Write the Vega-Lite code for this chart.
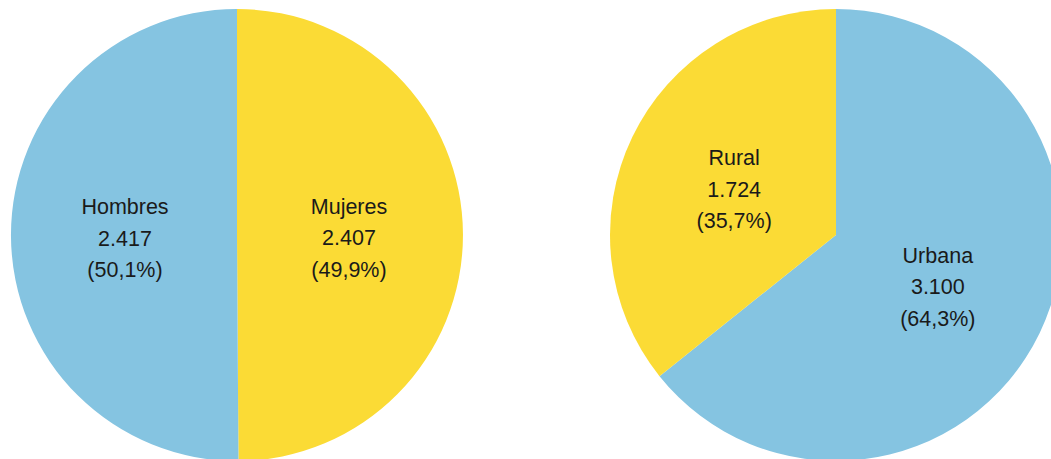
{
  "$schema": "https://vega.github.io/schema/vega-lite/v6.json",
  "padding": 0,
  "spacing": 125,
  "config": {"view": {"stroke": null}, "concat": {"spacing": 125}},
  "datasets": {
    "sexo": [
      {"categoria": "Mujeres", "valor": 2407, "etiqueta": "Mujeres\n2.407\n(49,9%)", "orden": 1, "grupo": "amarillo"},
      {"categoria": "Hombres", "valor": 2417, "etiqueta": "Hombres\n2.417\n(50,1%)", "orden": 2, "grupo": "azul"}
    ],
    "area": [
      {"categoria": "Urbana", "valor": 3100, "etiqueta": "Urbana\n3.100\n(64,3%)", "orden": 1, "grupo": "azul"},
      {"categoria": "Rural", "valor": 1724, "etiqueta": "Rural\n1.724\n(35,7%)", "orden": 2, "grupo": "amarillo"}
    ]
  },
  "hconcat": [
    {
      "width": 474,
      "height": 470,
      "data": {"name": "sexo"},
      "encoding": {
        "theta": {"field": "valor", "type": "quantitative", "stack": true},
        "order": {"field": "orden", "type": "quantitative"}
      },
      "layer": [
        {
          "mark": {"type": "arc", "radius": 226},
          "encoding": {
            "color": {"field": "grupo", "type": "nominal", "scale": {"domain": ["azul", "amarillo"], "range": ["#85C4E1", "#FBDB35"]}, "legend": null}
          }
        },
        {
          "mark": {"type": "text", "radius": 112, "dy": -27, "font": "Liberation Sans", "fontSize": 21.5, "lineHeight": 31.5, "color": "#1a1a1a", "lineBreak": "\n", "baseline": "middle"},
          "encoding": {"text": {"field": "etiqueta", "type": "nominal"}}
        }
      ]
    },
    {
      "width": 474,
      "height": 470,
      "data": {"name": "area"},
      "encoding": {
        "theta": {"field": "valor", "type": "quantitative", "stack": true},
        "order": {"field": "orden", "type": "quantitative"}
      },
      "layer": [
        {
          "mark": {"type": "arc", "radius": 226},
          "encoding": {
            "color": {"field": "grupo", "type": "nominal", "scale": {"domain": ["azul", "amarillo"], "range": ["#85C4E1", "#FBDB35"]}, "legend": null}
          }
        },
        {
          "mark": {"type": "text", "radius": 113, "dy": -27, "font": "Liberation Sans", "fontSize": 21.5, "lineHeight": 31.5, "color": "#1a1a1a", "lineBreak": "\n", "baseline": "middle"},
          "encoding": {"text": {"field": "etiqueta", "type": "nominal"}}
        }
      ]
    }
  ]
}
